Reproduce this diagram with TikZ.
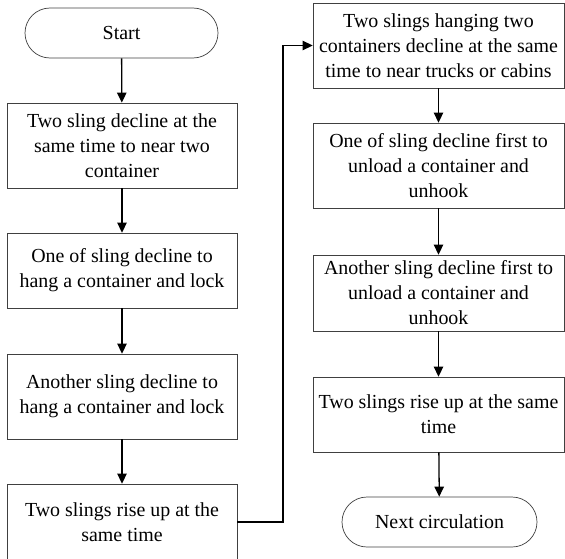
\documentclass[tikz,border=0pt]{standalone}
\usepackage{fontspec}
\setmainfont{Liberation Serif}
\usetikzlibrary{positioning,calc}
\usetikzlibrary{arrows.meta,shapes.misc}

\tikzset{
  stepbox/.style={draw=black!75, line width=0.6pt, rectangle, align=center,
    font=\fontsize{17}{21.3}\selectfont, inner sep=0pt},
  termbox/.style={draw=black!75, line width=0.6pt, rounded rectangle, align=center,
    font=\fontsize{17}{21.3}\selectfont, inner sep=0pt,
    minimum height=1.5cm},
  flow/.style={-{Triangle[length=8.5pt,width=8pt]}, line width=1.1pt}
}

\begin{document}
\begin{tikzpicture}[x=0.03cm, y=-0.03cm]
\useasboundingbox (0,0) rectangle (565,558);
% left column
\node [termbox, minimum width=5.79cm] (start) at (121.5,33) {Start};
\node [stepbox, minimum width=6.9cm, minimum height=2.55cm] (lift1) at (122,145.5)
  {Two sling decline at the\\ same time to near two\\ container};
\node [stepbox, minimum width=6.9cm, minimum height=2.25cm] (lift2) at (122,270.5)
  {One of sling decline to\\ hang a container and lock};
\node [stepbox, minimum width=6.9cm, minimum height=2.55cm] (lift3) at (122,396.5)
  {Another sling decline to\\ hang a container and lock};
\node [stepbox, minimum width=6.9cm, minimum height=2.28cm] (lift4) at (122,522)
  {Two slings rise up at the\\ same time};
% right column
\node [stepbox, minimum width=7.53cm, minimum height=2.55cm] (drop1) at (438.5,45.5)
  {Two slings hanging two\\ containers decline at the same\\ time to near trucks or cabins};
\node [stepbox, minimum width=7.53cm, minimum height=2.55cm] (drop2) at (438.5,165.5)
  {One of sling decline first to\\ unload a container and\\ unhook};
\node [stepbox, minimum width=7.53cm, minimum height=2.28cm] (drop3) at (438.5,293)
  {Another sling decline first to\\ unload a container and\\ unhook};
\node [stepbox, minimum width=7.53cm, minimum height=2.25cm] (drop4) at (438.5,414.5)
  {Two slings rise up at the same\\ time};
\node [termbox, minimum width=5.85cm] (next) at (439.5,522) {Next circulation};
% connectors
\draw [flow] (start) -- (lift1);
\draw [flow] (lift1) -- (lift2);
\draw [flow] (lift2) -- (lift3);
\draw [flow] (lift3) -- (lift4);
\coordinate (turn) at (283,0);
\draw [flow] (lift4.east) -- (lift4.east -| turn) -- (drop1.west -| turn) -- (drop1.west);
\draw [flow] (drop1) -- (drop2);
\draw [flow] (drop2) -- (drop3);
\draw [flow] (drop3) -- (drop4);
\draw [flow] (drop4) -- (next);
\end{tikzpicture}
\end{document}
